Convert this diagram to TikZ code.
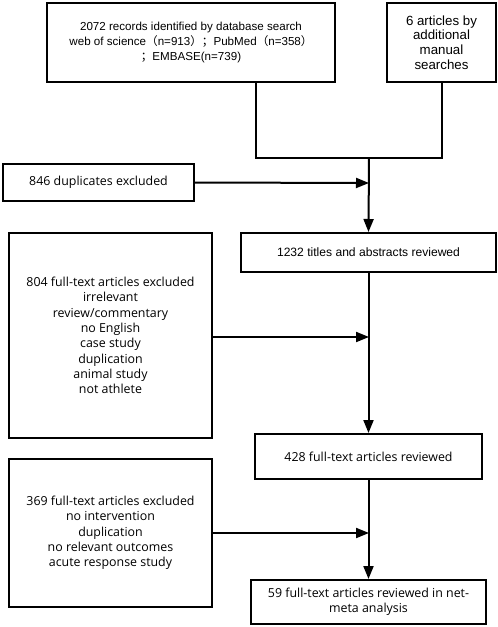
\documentclass[tikz,border=0pt]{standalone}
\usepackage{fontspec}
\setmainfont{Liberation Sans}
\newfontfamily\hum{Open Sans}
\newfontfamily\cjk{Noto Sans CJK SC}
\usetikzlibrary{arrows.meta}
\tikzset{
  box/.style={draw, line width=2pt, align=center, inner sep=2pt, font=\fontsize{11.6}{15}\selectfont},
  hbox/.style={box, font=\hum\fontsize{12.4}{15.3}\selectfont},
  line/.style={line width=2pt},
  arr/.style={line width=2pt, -{Triangle[length=13pt,width=10pt]}}
}
\begin{document}
\begin{tikzpicture}[x=1pt,y=-1pt]
\useasboundingbox (0,0) rectangle (498,627);
\node[box, minimum width=288pt, minimum height=79pt] (A) at (191,42.5)
  {2072 records identified by database search\\
   web of science{\cjk（}n=913{\cjk）；}PubMed{\cjk（}n=358{\cjk）}\\
   {\cjk；}EMBASE(n=739)};
\node[box, minimum width=109pt, minimum height=79pt, font=\fontsize{13.3}{14.8}\selectfont] (B) at (441.5,42.5)
  {6 articles by\\additional\\manual\\searches};
\coordinate (a1) at (256,82);
\coordinate (a2) at (256,158);
\coordinate (b2) at (441.5,158);
\coordinate (j1) at (369,158);
\node[hbox, minimum width=191pt, minimum height=37pt] (dup) at (98.5,182.5) {846 duplicates excluded};
\coordinate (j2) at (369,183);
\node[box, minimum width=255pt, minimum height=39pt, font=\fontsize{12.1}{15}\selectfont] (C) at (368.5,252.5) {1232 titles and abstracts reviewed};
\node[hbox, minimum width=203pt, minimum height=205pt] (D) at (110.5,335.5)
  {804 full-text articles excluded\\irrelevant\\review/commentary\\no English\\case study\\duplication\\animal study\\not athlete};
\coordinate (j3) at (369,337);
\node[hbox, minimum width=227pt, minimum height=45pt] (E) at (368.5,456.5) {428 full-text articles reviewed};
\node[hbox, minimum width=203pt, minimum height=148pt] (F) at (110.5,533)
  {369 full-text articles excluded\\no intervention\\duplication\\no relevant outcomes\\acute response study};
\coordinate (j4) at (369,533);
\node[hbox, minimum width=235pt, minimum height=44pt] (G) at (368.5,602)
  {59 full-text articles reviewed in net-\\meta analysis};
\draw[line] (a1) -- (a2) -- (b2) -- (B.south);
\draw[arr] (j1) -- (C.north);
\draw[arr] (dup.east) -- (j2);
\draw[arr] (C.south) -- (E.north);
\draw[arr] (D.east |- j3) -- (j3);
\draw[arr] (E.south) -- (G.north);
\draw[arr] (F.east |- j4) -- (j4);
\end{tikzpicture}
\end{document}
